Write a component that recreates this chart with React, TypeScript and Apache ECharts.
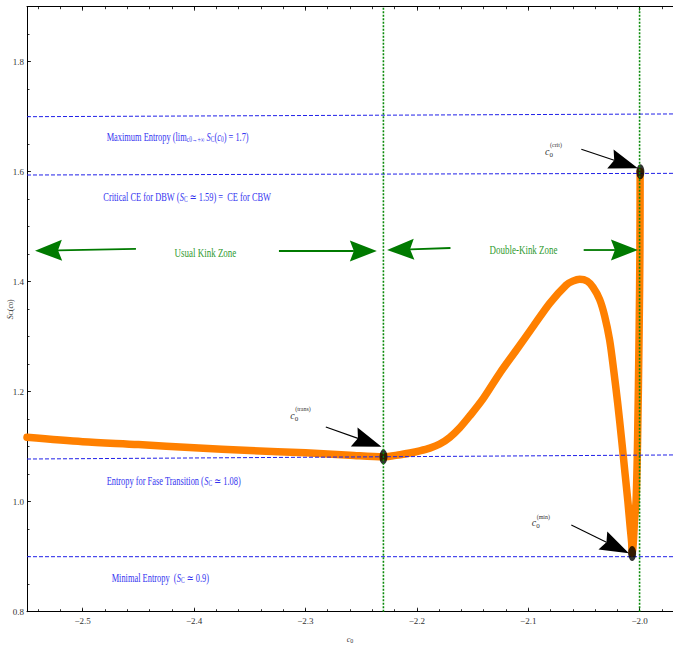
import React, { useEffect, useRef } from "react";
import * as echarts from "echarts";

// ---- data ----
const cValues = [
  -2.55, -2.5, -2.45, -2.4, -2.35, -2.3, -2.26, -2.23, -2.215, -2.2063, -2.1973, -2.1883,
  -2.1794, -2.1704, -2.1614, -2.1525, -2.1406, -2.1256, -2.1106, -2.0957, -2.0807, -2.0658,
  -2.06, -2.0538, -2.047, -2.0419, -2.0359, -2.0314, -2.0269, -2.0233, -2.0197, -2.0161,
  -2.013, -2.0105, -2.0085, -2.0071, -2.0067, -2.0062, -2.0055, -2.0045, -2.0031, -2.0018,
  -2.0004, -1.9997, -1.9995,
];
const sValues = [
  1.117, 1.109, 1.104, 1.098, 1.093, 1.089, 1.0845, 1.0815, 1.0855, 1.0885, 1.0925, 1.0975,
  1.1048, 1.117, 1.1345, 1.156, 1.187, 1.2335, 1.2758, 1.3182, 1.3607, 1.394,
  1.401, 1.4044, 1.401, 1.39, 1.368, 1.338, 1.294, 1.24, 1.18, 1.112,
  1.05, 1.0, 0.955, 0.925, 0.906, 0.912, 0.93, 0.9667, 1.003, 1.112,
  1.312, 1.458, 1.6,
];

const xLabelValues = [-2.5, -2.4, -2.3, -2.2, -2.1, -2.0];
const yLabelValues = [0.8, 1.0, 1.2, 1.4, 1.6, 1.8];

// reference entropy levels (value at left edge, value at right edge)
const refLeft = [1.7, 1.594, 1.0776, 0.9];
const refRight = [1.705, 1.597, 1.085, 0.9];

// zone boundaries (vertical dotted lines)
const zoneBounds = [-2.23, -2.0];

// special points c0(trans), c0(min), c0(crit)
const markerX = [-2.23, -2.0067, -1.9993];
const markerY = [1.0815, 0.906, 1.6];
const markerNames = ["trans", "min", "crit"];

// arrows [fromX, fromY, toX, toY]
const blackArrows = [
  [-2.2817, 1.1358, -2.2317, 1.1],
  [-2.0613, 0.9576, -2.0096, 0.9062],
  [-2.0523, 1.6407, -2.0015, 1.6062],
];
const greenArrows = [
  [-2.4522, 1.4595, -2.5428, 1.4564],
  [-2.3238, 1.4558, -2.2359, 1.4558],
  [-2.1698, 1.4613, -2.2267, 1.4576],
  [-2.0502, 1.4576, -2.0015, 1.4576],
];

// annotation texts
const blueTexts = [
  "Maximum Entropy (lim{sub|c0→+∞} {it|S}{sub|C}({it|c}{sub|0}) = 1.7)",
  "Critical CE for DBW ({it|S}{sub|C} ≃ 1.59) =  CE for CBW",
  "Entropy for Fase Transition ({it|S}{sub|C} ≃ 1.08)",
  "Minimal Entropy  ({it|S}{sub|C} ≃ 0.9)",
];
const blueAnchorX = [-2.4785, -2.4815, -2.4785, -2.474];
const blueAnchorY = [1.6622, 1.5535, 1.0382, 0.8607];
const greenTexts = ["Usual Kink Zone", "Double-Kink Zone"];
const greenAnchorX = [-2.3898, -2.1042];
const greenAnchorY = [1.4527, 1.4576];
const cLabelX = [-2.3137, -2.0969, -2.0849];
const cLabelY = [1.1576, 0.9622, 1.6376];

const SERIF = "'Liberation Serif', 'DejaVu Serif', serif";

function arrowRenderer(color: string, lw: number, hl: number, hw: number) {
  return (params: any, api: any) => {
    const p1 = api.coord([api.value(0), api.value(1)]);
    const p2 = api.coord([api.value(2), api.value(3)]);
    const dx = p2[0] - p1[0];
    const dy = p2[1] - p1[1];
    const len = Math.hypot(dx, dy) || 1;
    const ux = dx / len;
    const uy = dy / len;
    const nx = -uy;
    const ny = ux;
    const bx = p2[0] - ux * hl;
    const by = p2[1] - uy * hl;
    const notch = 4;
    return {
      type: "group",
      children: [
        {
          type: "line",
          shape: { x1: p1[0], y1: p1[1], x2: bx + ux * notch, y2: by + uy * notch },
          style: { stroke: color, lineWidth: lw },
        },
        {
          type: "polygon",
          shape: {
            points: [
              [p2[0], p2[1]],
              [bx + nx * hw, by + ny * hw],
              [bx + ux * notch, by + uy * notch],
              [bx - nx * hw, by - ny * hw],
            ],
          },
          style: { fill: color },
        },
      ],
    };
  };
}

const fmtX = (v: number) => {
  const k = xLabelValues.find((t) => Math.abs(t - v) < 1e-6);
  if (k === undefined) return "";
  return (k < 0 ? "−" : "") + Math.abs(k).toFixed(1);
};
const fmtY = (v: number) => {
  const k = yLabelValues.find((t) => Math.abs(t - v) < 1e-6);
  return k === undefined ? "" : k.toFixed(1);
};

export default function App() {
  const ref = useRef<HTMLDivElement>(null);
  useEffect(() => {
    const chart = echarts.init(ref.current!, null, { renderer: "svg" });
    const xMin = -2.55;
    const xMax = -1.97;
    const yMin = 0.8;
    const yMax = 1.9;
    const mkX = (position: string, step: number, tickLen: number, showLine: boolean, labels: boolean) => ({
      type: "value",
      position,
      min: xMin,
      max: xMax,
      minInterval: step,
      maxInterval: step,
      splitLine: { show: false },
      axisLine: { show: showLine, onZero: false, lineStyle: { color: "#000", width: 1 } },
      axisTick: { show: true, inside: true, length: tickLen, lineStyle: { color: "#000", width: 0.8 } },
      axisLabel: labels
        ? { show: true, formatter: fmtX, color: "#333", fontSize: 9, fontFamily: SERIF, margin: 5 }
        : { show: false },
    });
    const mkY = (position: string, step: number, tickLen: number, showLine: boolean, labels: boolean) => ({
      type: "value",
      position,
      min: yMin,
      max: yMax,
      minInterval: step,
      maxInterval: step,
      splitLine: { show: false },
      axisLine: { show: showLine, onZero: false, lineStyle: { color: "#000", width: 1 } },
      axisTick: { show: true, inside: true, length: tickLen, lineStyle: { color: "#000", width: 0.8 } },
      axisLabel: labels
        ? { show: true, formatter: fmtY, color: "#333", fontSize: 9, fontFamily: SERIF, margin: 3 }
        : { show: false },
    });

    const nameStyle = {
      fontFamily: SERIF,
      fontSize: 8,
      color: "#333",
      rich: {
        i: { fontStyle: "italic", fontSize: 8, fontFamily: SERIF, color: "#333" },
        s: { fontSize: 6, verticalAlign: "bottom", fontFamily: SERIF, color: "#333" },
      },
    };
    const xAxes: any[] = [
      {
        ...mkX("bottom", 0.1, 4, true, true),
        name: "{i|c}{s|0}",
        nameLocation: "middle",
        nameGap: 24,
        nameMoveOverlap: false,
        nameTextStyle: nameStyle,
      },
      mkX("bottom", 0.02, 2.5, false, false),
      mkX("top", 0.1, 4, true, false),
      mkX("top", 0.02, 2.5, false, false),
    ];
    const yAxes: any[] = [
      {
        ...mkY("left", 0.2, 4, true, true),
        name: "{i|S}{s|C}({i|c}{s|0})",
        nameLocation: "middle",
        nameGap: 13,
        nameMoveOverlap: false,
        nameTextStyle: nameStyle,
      },
      mkY("left", 0.05, 2.5, false, false),
    ];

    const series: any[] = [];
    series.push({
      type: "line",
      name: "SC",
      xAxisIndex: 0,
      yAxisIndex: 0,
      data: cValues.map((c, i) => [c, sValues[i]]),
      showSymbol: false,
      symbol: "none",
      smooth: 0.3,
      lineStyle: { color: "#ff8000", width: 7.5, cap: "round", join: "round" },
      z: 2,
      silent: true,
    });
    refLeft.forEach((v, i) => {
      series.push({
        type: "line",
        xAxisIndex: 0,
        yAxisIndex: 0,
        data: [
          [xMin, v],
          [xMax, refRight[i]],
        ],
        symbol: "none",
        lineStyle: { color: "#2020e8", width: 1, type: [4, 2] },
        z: 3,
        silent: true,
      });
    });
    zoneBounds.forEach((b) => {
      series.push({
        type: "line",
        xAxisIndex: 0,
        yAxisIndex: 0,
        data: [
          [b, yMin],
          [b, yMax],
        ],
        symbol: "none",
        lineStyle: { color: "#0a8a0a", width: 1.6, type: [2, 1.5] },
        z: 6,
        silent: true,
      });
    });
    series.push({
      type: "scatter",
      xAxisIndex: 0,
      yAxisIndex: 0,
      data: markerX.map((x, i) => ({ name: markerNames[i], value: [x, markerY[i]] })),
      symbol: "circle",
      symbolSize: [8, 15],
      itemStyle: { color: "#000" },
      z: 5,
      silent: true,
    });
    series.push({
      type: "custom",
      xAxisIndex: 0,
      yAxisIndex: 0,
      data: blackArrows,
      renderItem: arrowRenderer("#000", 1.1, 29, 10),
      z: 7,
      silent: true,
    });
    series.push({
      type: "custom",
      xAxisIndex: 0,
      yAxisIndex: 0,
      data: greenArrows,
      renderItem: arrowRenderer("#007a00", 1.8, 27, 10.5),
      z: 7,
      silent: true,
    });

    chart.setOption({
      animation: false,
      backgroundColor: "#fff",
      grid: {
        left: 27,
        top: 6.7,
        right: 0,
        bottom: 34.3,
        containLabel: false,
        outerBoundsMode: "none",
      },
      xAxis: xAxes,
      yAxis: yAxes,
      series,
    });

    const toPx = (x: number, y: number) =>
      chart.convertToPixel({ xAxisIndex: 0, yAxisIndex: 0 } as any, [x, y]) as number[];

    const graphics: any[] = [];
    const BLUE = "#3535f0";
    const blueRich = {
      it: { fontStyle: "italic", fontSize: 11.5, fontFamily: SERIF, fill: BLUE },
      sub: { fontSize: 7.5, verticalAlign: "bottom", fontFamily: SERIF, fill: BLUE },
    };
    blueTexts.forEach((t, i) => {
      const p = toPx(blueAnchorX[i], blueAnchorY[i]);
      graphics.push({
        type: "text",
        x: p[0],
        y: p[1],
        scaleX: 0.73,
        z: 10,
        style: {
          text: t,
          fill: BLUE,
          fontSize: 11.5,
          fontFamily: SERIF,
          align: "left",
          verticalAlign: "middle",
          rich: blueRich,
        },
      });
    });
    greenTexts.forEach((t, i) => {
      const p = toPx(greenAnchorX[i], greenAnchorY[i]);
      graphics.push({
        type: "text",
        x: p[0],
        y: p[1],
        scaleX: 0.78,
        z: 10,
        style: {
          text: t,
          fill: "#2f9a2f",
          fontSize: 11.5,
          fontFamily: SERIF,
          align: "center",
          verticalAlign: "middle",
        },
      });
    });
    markerNames.forEach((n, i) => {
      const p = toPx(cLabelX[i], cLabelY[i]);
      graphics.push({
        type: "text",
        x: p[0],
        y: p[1],
        z: 10,
        style: {
          text: "c",
          fill: "#333",
          fontSize: 10,
          fontStyle: "italic",
          fontFamily: SERIF,
          align: "left",
          verticalAlign: "middle",
        },
      });
      graphics.push({
        type: "text",
        x: p[0] + 4.5,
        y: p[1] + 4,
        z: 10,
        style: {
          text: "0",
          fill: "#333",
          fontSize: 7,
          fontFamily: SERIF,
          align: "left",
          verticalAlign: "middle",
        },
      });
      graphics.push({
        type: "text",
        x: p[0] + 5,
        y: p[1] - 6.5,
        scaleX: 0.85,
        z: 10,
        style: {
          text: "(" + n + ")",
          fill: "#333",
          fontSize: 7,
          fontFamily: SERIF,
          align: "left",
          verticalAlign: "middle",
        },
      });
    });
    chart.setOption({ graphic: graphics });

    return () => chart.dispose();
  }, []);
  return (
    <div
      ref={ref}
      style={{ position: "fixed", left: 0, top: 0, width: 673, height: 646, background: "#fff" }}
    />
  );
}
